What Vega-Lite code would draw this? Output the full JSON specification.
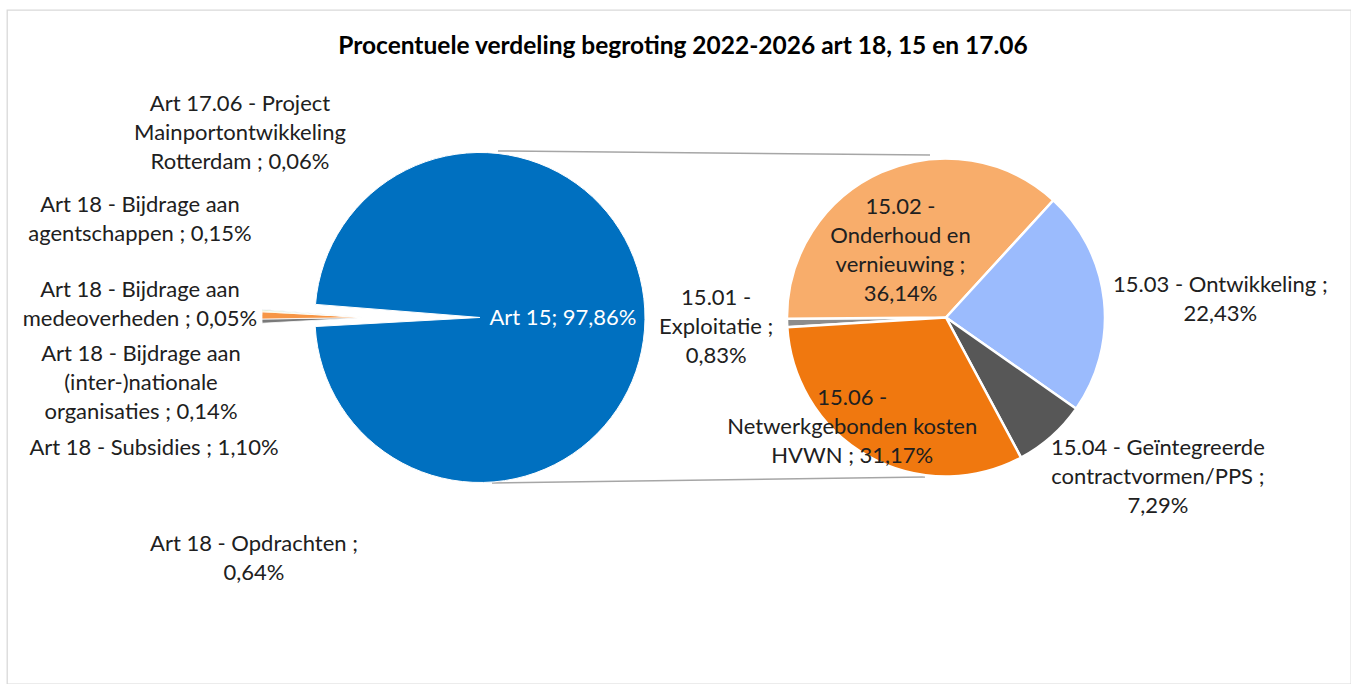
{
  "$schema": "https://vega.github.io/schema/vega-lite/v6.json",
  "width": 1344,
  "height": 674,
  "autosize": "none",
  "padding": {"left": 7, "top": 10, "right": 0, "bottom": 0},
  "background": "white",
  "config": {"view": {"stroke": "#D9D9D9", "strokeWidth": 1.3}, "font": "Lato"},
  "title": {"text": "Procentuele verdeling begroting 2022-2026 art 18, 15 en 17.06", "font": "Lato", "fontSize": 24.5, "fontWeight": "bold", "color": "#000000", "anchor": "middle", "frame": "group", "offset": -57, "dx": 4},
  "datasets": {
    "hoofd": [
      {"pie": "links", "categorie": "Art 18 - Opdrachten", "pct": 0.64, "label": "Art 18 - Opdrachten ;\n0,64%"},
      {"pie": "links", "categorie": "Art 18 - Subsidies", "pct": 1.10, "label": "Art 18 - Subsidies ; 1,10%"},
      {"pie": "links", "categorie": "Art 18 - Bijdrage aan (inter-)nationale organisaties", "pct": 0.14, "label": "Art 18 - Bijdrage aan\n(inter-)nationale\norganisaties ; 0,14%"},
      {"pie": "links", "categorie": "Art 18 - Bijdrage aan medeoverheden", "pct": 0.05, "label": "Art 18 - Bijdrage aan\nmedeoverheden ; 0,05%"},
      {"pie": "links", "categorie": "Art 18 - Bijdrage aan agentschappen", "pct": 0.15, "label": "Art 18 - Bijdrage aan\nagentschappen ; 0,15%"},
      {"pie": "links", "categorie": "Art 17.06 - Project Mainportontwikkeling Rotterdam", "pct": 0.06, "label": "Art 17.06 - Project\nMainportontwikkeling\nRotterdam ; 0,06%"},
      {"pie": "links", "categorie": "Art 15", "pct": 97.86, "label": "Art 15; 97,86%"}
    ],
    "detail": [
      {"pie": "rechts", "categorie": "15.01 - Exploitatie", "pct": 0.83, "label": "15.01 -\nExploitatie ;\n0,83%"},
      {"pie": "rechts", "categorie": "15.02 - Onderhoud en vernieuwing", "pct": 36.14, "label": "15.02 -\nOnderhoud en\nvernieuwing ;\n36,14%"},
      {"pie": "rechts", "categorie": "15.03 - Ontwikkeling", "pct": 22.43, "label": "15.03 - Ontwikkeling ;\n22,43%"},
      {"pie": "rechts", "categorie": "15.04 - Geïntegreerde contractvormen/PPS", "pct": 7.29, "label": "15.04 - Geïntegreerde\ncontractvormen/PPS ;\n7,29%"},
      {"pie": "rechts", "categorie": "15.06 - Netwerkgebonden kosten HVWN", "pct": 31.17, "label": "15.06 -\nNetwerkgebonden kosten\nHVWN ; 31,17%"}
    ]
  },
  "resolve": {"scale": {"y": "independent", "theta": "independent"}},
  "layer": [
    {
      "data": {"values": [{"lijn": "boven"}]},
      "mark": {"type": "rule", "color": "#A6A6A6", "strokeWidth": 1.5, "xOffset": 18, "x2Offset": -16, "yOffset": -166.5, "y2Offset": -162.5},
      "encoding": {
        "x": {"datum": "links", "type": "nominal", "scale": {"type": "point", "domain": ["links", "rechts"], "padding": 0.942, "align": 0.5387}, "axis": null},
        "x2": {"datum": "rechts"},
        "y": {"datum": "midden", "type": "nominal", "scale": {"type": "point", "domain": ["midden"], "align": 0.4562}, "axis": null},
        "y2": {"datum": "midden"}
      }
    },
    {
      "data": {"values": [{"lijn": "onder"}]},
      "mark": {"type": "rule", "color": "#A6A6A6", "strokeWidth": 1.5, "xOffset": 12, "x2Offset": -21, "yOffset": 165.5, "y2Offset": 159.5},
      "encoding": {
        "x": {"datum": "links", "type": "nominal", "scale": {"type": "point", "domain": ["links", "rechts"], "padding": 0.942, "align": 0.5387}, "axis": null},
        "x2": {"datum": "rechts"},
        "y": {"datum": "midden", "type": "nominal", "scale": {"type": "point", "domain": ["midden"], "align": 0.4562}, "axis": null},
        "y2": {"datum": "midden"}
      }
    },
    {
      "data": {"name": "hoofd"},
      "transform": [{"window": [{"op": "row_number", "as": "volgorde"}]}],
      "mark": {"type": "arc", "radius": 165, "stroke": "white", "strokeWidth": 1},
      "encoding": {
        "x": {"field": "pie", "type": "nominal", "scale": {"type": "point", "domain": ["links", "rechts"], "padding": 0.942, "align": 0.5387}, "axis": null},
        "y": {"datum": "midden", "type": "nominal", "scale": {"type": "point", "domain": ["midden"], "align": 0.4562}, "axis": null},
        "theta": {"field": "pct", "type": "quantitative", "stack": true, "scale": {"domain": [0, 100], "range": [4.6574, 10.9406]}},
        "order": {"field": "volgorde", "type": "quantitative"},
        "color": {"field": "categorie", "type": "nominal", "legend": null, "scale": {
          "domain": ["Art 18 - Opdrachten", "Art 18 - Subsidies", "Art 18 - Bijdrage aan (inter-)nationale organisaties", "Art 18 - Bijdrage aan medeoverheden", "Art 18 - Bijdrage aan agentschappen", "Art 17.06 - Project Mainportontwikkeling Rotterdam", "Art 15", "15.01 - Exploitatie", "15.02 - Onderhoud en vernieuwing", "15.03 - Ontwikkeling", "15.04 - Geïntegreerde contractvormen/PPS", "15.06 - Netwerkgebonden kosten HVWN"],
          "range": ["#7A7A7A", "#F79646", "#FFC000", "#5B9BD5", "#70AD47", "#264478", "#0070C0", "#8C8C8C", "#F8AD6B", "#9BBBFD", "#575757", "#F0780F"]}},
        "opacity": {"condition": {"test": "datum.categorie === 'Art 15'", "value": 1}, "value": 0}
      }
    },
    {
      "data": {"name": "hoofd"},
      "transform": [{"window": [{"op": "row_number", "as": "volgorde"}]}],
      "mark": {"type": "arc", "radius": 105, "xOffset": -113, "stroke": "white", "strokeWidth": 0.8},
      "encoding": {
        "x": {"field": "pie", "type": "nominal", "scale": {"type": "point", "domain": ["links", "rechts"], "padding": 0.942, "align": 0.5387}, "axis": null},
        "y": {"datum": "midden", "type": "nominal", "scale": {"type": "point", "domain": ["midden"], "align": 0.4562}, "axis": null},
        "theta": {"field": "pct", "type": "quantitative", "stack": true, "scale": {"domain": [0, 100], "range": [4.6574, 10.9406]}},
        "order": {"field": "volgorde", "type": "quantitative"},
        "color": {"field": "categorie", "type": "nominal", "legend": null},
        "opacity": {"condition": {"test": "datum.categorie !== 'Art 15'", "value": 1}, "value": 0}
      }
    },
    {
      "data": {"name": "hoofd"},
      "transform": [{"window": [{"op": "row_number", "as": "volgorde"}]}],
      "mark": {"type": "text", "radius": 83, "fontSize": 22, "color": "white", "align": "center", "baseline": "middle"},
      "encoding": {
        "x": {"field": "pie", "type": "nominal", "scale": {"type": "point", "domain": ["links", "rechts"], "padding": 0.942, "align": 0.5387}, "axis": null},
        "y": {"datum": "midden", "type": "nominal", "scale": {"type": "point", "domain": ["midden"], "align": 0.4562}, "axis": null},
        "theta": {"field": "pct", "type": "quantitative", "stack": true, "scale": {"domain": [0, 100], "range": [4.6574, 10.9406]}},
        "order": {"field": "volgorde", "type": "quantitative"},
        "detail": {"field": "categorie", "type": "nominal"},
        "text": {"field": "label", "type": "nominal"},
        "opacity": {"condition": {"test": "datum.categorie === 'Art 15'", "value": 1}, "value": 0}
      }
    },
    {
      "data": {"name": "hoofd"},
      "transform": [{"window": [{"op": "row_number", "as": "volgorde"}]}, {"filter": {"field": "categorie", "equal": "Art 17.06 - Project Mainportontwikkeling Rotterdam"}}],
      "mark": {"type": "text", "fontSize": 22, "color": "#202020", "align": "center", "baseline": "middle", "lineBreak": "\n", "lineHeight": 29, "dx": -240, "dy": -29},
      "encoding": {
        "x": {"field": "pie", "type": "nominal", "scale": {"type": "point", "domain": ["links", "rechts"], "padding": 0.942, "align": 0.5387}, "axis": null},
        "y": {"field": "volgorde", "type": "quantitative", "scale": {"domain": [-0.4758, 7.4499], "nice": false, "zero": false}, "axis": null},
        "text": {"field": "label", "type": "nominal"}
      }
    },
    {
      "data": {"name": "hoofd"},
      "transform": [{"window": [{"op": "row_number", "as": "volgorde"}]}, {"filter": {"field": "categorie", "equal": "Art 18 - Opdrachten"}}],
      "mark": {"type": "text", "fontSize": 22, "color": "#202020", "align": "center", "baseline": "middle", "lineBreak": "\n", "lineHeight": 29, "dx": -226, "dy": -14.5},
      "encoding": {
        "x": {"field": "pie", "type": "nominal", "scale": {"type": "point", "domain": ["links", "rechts"], "padding": 0.942, "align": 0.5387}, "axis": null},
        "y": {"field": "volgorde", "type": "quantitative", "scale": {"domain": [-0.4758, 7.4499], "nice": false, "zero": false}, "axis": null},
        "text": {"field": "label", "type": "nominal"}
      }
    },
    {
      "data": {"name": "hoofd"},
      "transform": [{"window": [{"op": "row_number", "as": "volgorde"}]}, {"filter": {"field": "categorie", "oneOf": ["Art 18 - Bijdrage aan agentschappen", "Art 18 - Bijdrage aan medeoverheden"]}}],
      "mark": {"type": "text", "fontSize": 22, "color": "#202020", "align": "center", "baseline": "middle", "lineBreak": "\n", "lineHeight": 29, "dx": -340, "dy": -13},
      "encoding": {
        "x": {"field": "pie", "type": "nominal", "scale": {"type": "point", "domain": ["links", "rechts"], "padding": 0.942, "align": 0.5387}, "axis": null},
        "y": {"field": "volgorde", "type": "quantitative", "scale": {"domain": [-0.4758, 7.4499], "nice": false, "zero": false}, "axis": null},
        "text": {"field": "label", "type": "nominal"}
      }
    },
    {
      "data": {"name": "hoofd"},
      "transform": [{"window": [{"op": "row_number", "as": "volgorde"}]}, {"filter": {"field": "categorie", "equal": "Art 18 - Bijdrage aan (inter-)nationale organisaties"}}],
      "mark": {"type": "text", "fontSize": 22, "color": "#202020", "align": "center", "baseline": "middle", "lineBreak": "\n", "lineHeight": 29, "dx": -339, "dy": -34},
      "encoding": {
        "x": {"field": "pie", "type": "nominal", "scale": {"type": "point", "domain": ["links", "rechts"], "padding": 0.942, "align": 0.5387}, "axis": null},
        "y": {"field": "volgorde", "type": "quantitative", "scale": {"domain": [-0.4758, 7.4499], "nice": false, "zero": false}, "axis": null},
        "text": {"field": "label", "type": "nominal"}
      }
    },
    {
      "data": {"name": "hoofd"},
      "transform": [{"window": [{"op": "row_number", "as": "volgorde"}]}, {"filter": {"field": "categorie", "equal": "Art 18 - Subsidies"}}],
      "mark": {"type": "text", "fontSize": 22, "color": "#202020", "align": "center", "baseline": "middle", "lineBreak": "\n", "lineHeight": 29, "dx": -326, "dy": -25},
      "encoding": {
        "x": {"field": "pie", "type": "nominal", "scale": {"type": "point", "domain": ["links", "rechts"], "padding": 0.942, "align": 0.5387}, "axis": null},
        "y": {"field": "volgorde", "type": "quantitative", "scale": {"domain": [-0.4758, 7.4499], "nice": false, "zero": false}, "axis": null},
        "text": {"field": "label", "type": "nominal"}
      }
    },
    {
      "data": {"name": "detail"},
      "transform": [{"window": [{"op": "row_number", "as": "volgorde"}]}],
      "mark": {"type": "arc", "radius": 159, "stroke": "white", "strokeWidth": 2.5},
      "encoding": {
        "x": {"field": "pie", "type": "nominal", "scale": {"type": "point", "domain": ["links", "rechts"], "padding": 0.942, "align": 0.5387}, "axis": null},
        "y": {"datum": "midden", "type": "nominal", "scale": {"type": "point", "domain": ["midden"], "align": 0.4562}, "axis": null},
        "theta": {"field": "pct", "type": "quantitative", "stack": true, "scale": {"domain": [0, 97.86], "range": [4.6513, 10.9345]}},
        "order": {"field": "volgorde", "type": "quantitative"},
        "color": {"field": "categorie", "type": "nominal", "legend": null}
      }
    },
    {
      "data": {"name": "detail"},
      "transform": [{"window": [{"op": "row_number", "as": "volgorde"}]}],
      "mark": {"type": "text", "radius": 230, "dy": -27, "fontSize": 22, "color": "#202020", "align": "center", "baseline": "middle", "lineBreak": "\n", "lineHeight": 29},
      "encoding": {
        "x": {"field": "pie", "type": "nominal", "scale": {"type": "point", "domain": ["links", "rechts"], "padding": 0.942, "align": 0.5387}, "axis": null},
        "y": {"datum": "midden", "type": "nominal", "scale": {"type": "point", "domain": ["midden"], "align": 0.4562}, "axis": null},
        "theta": {"field": "pct", "type": "quantitative", "stack": true, "scale": {"domain": [0, 97.86], "range": [4.6513, 10.9345]}},
        "order": {"field": "volgorde", "type": "quantitative"},
        "detail": {"field": "categorie", "type": "nominal"},
        "text": {"field": "label", "type": "nominal"},
        "opacity": {"condition": {"test": "datum.categorie === '15.01 - Exploitatie'", "value": 1}, "value": 0}
      }
    },
    {
      "data": {"name": "detail"},
      "transform": [{"window": [{"op": "row_number", "as": "volgorde"}]}],
      "mark": {"type": "text", "radius": 80, "dx": -13, "dy": -37, "fontSize": 22, "color": "#202020", "align": "center", "baseline": "middle", "lineBreak": "\n", "lineHeight": 29},
      "encoding": {
        "x": {"field": "pie", "type": "nominal", "scale": {"type": "point", "domain": ["links", "rechts"], "padding": 0.942, "align": 0.5387}, "axis": null},
        "y": {"datum": "midden", "type": "nominal", "scale": {"type": "point", "domain": ["midden"], "align": 0.4562}, "axis": null},
        "theta": {"field": "pct", "type": "quantitative", "stack": true, "scale": {"domain": [0, 97.86], "range": [4.6513, 10.9345]}},
        "order": {"field": "volgorde", "type": "quantitative"},
        "detail": {"field": "categorie", "type": "nominal"},
        "text": {"field": "label", "type": "nominal"},
        "opacity": {"condition": {"test": "datum.categorie === '15.02 - Onderhoud en vernieuwing'", "value": 1}, "value": 0}
      }
    },
    {
      "data": {"name": "detail"},
      "transform": [{"window": [{"op": "row_number", "as": "volgorde"}]}],
      "mark": {"type": "text", "radius": 276, "dy": -2, "fontSize": 22, "color": "#202020", "align": "center", "baseline": "middle", "lineBreak": "\n", "lineHeight": 29},
      "encoding": {
        "x": {"field": "pie", "type": "nominal", "scale": {"type": "point", "domain": ["links", "rechts"], "padding": 0.942, "align": 0.5387}, "axis": null},
        "y": {"datum": "midden", "type": "nominal", "scale": {"type": "point", "domain": ["midden"], "align": 0.4562}, "axis": null},
        "theta": {"field": "pct", "type": "quantitative", "stack": true, "scale": {"domain": [0, 97.86], "range": [4.6513, 10.9345]}},
        "order": {"field": "volgorde", "type": "quantitative"},
        "detail": {"field": "categorie", "type": "nominal"},
        "text": {"field": "label", "type": "nominal"},
        "opacity": {"condition": {"test": "datum.categorie === '15.03 - Ontwikkeling'", "value": 1}, "value": 0}
      }
    },
    {
      "data": {"name": "detail"},
      "transform": [{"window": [{"op": "row_number", "as": "volgorde"}]}],
      "mark": {"type": "text", "radius": 262, "dx": 38, "dy": -65, "fontSize": 22, "color": "#202020", "align": "center", "baseline": "middle", "lineBreak": "\n", "lineHeight": 29},
      "encoding": {
        "x": {"field": "pie", "type": "nominal", "scale": {"type": "point", "domain": ["links", "rechts"], "padding": 0.942, "align": 0.5387}, "axis": null},
        "y": {"datum": "midden", "type": "nominal", "scale": {"type": "point", "domain": ["midden"], "align": 0.4562}, "axis": null},
        "theta": {"field": "pct", "type": "quantitative", "stack": true, "scale": {"domain": [0, 97.86], "range": [4.6513, 10.9345]}},
        "order": {"field": "volgorde", "type": "quantitative"},
        "detail": {"field": "categorie", "type": "nominal"},
        "text": {"field": "label", "type": "nominal"},
        "opacity": {"condition": {"test": "datum.categorie === '15.04 - Geïntegreerde contractvormen/PPS'", "value": 1}, "value": 0}
      }
    },
    {
      "data": {"name": "detail"},
      "transform": [{"window": [{"op": "row_number", "as": "volgorde"}]}],
      "mark": {"type": "text", "radius": 141, "dx": -25, "dy": -43, "fontSize": 22, "color": "#202020", "align": "center", "baseline": "middle", "lineBreak": "\n", "lineHeight": 29},
      "encoding": {
        "x": {"field": "pie", "type": "nominal", "scale": {"type": "point", "domain": ["links", "rechts"], "padding": 0.942, "align": 0.5387}, "axis": null},
        "y": {"datum": "midden", "type": "nominal", "scale": {"type": "point", "domain": ["midden"], "align": 0.4562}, "axis": null},
        "theta": {"field": "pct", "type": "quantitative", "stack": true, "scale": {"domain": [0, 97.86], "range": [4.6513, 10.9345]}},
        "order": {"field": "volgorde", "type": "quantitative"},
        "detail": {"field": "categorie", "type": "nominal"},
        "text": {"field": "label", "type": "nominal"},
        "opacity": {"condition": {"test": "datum.categorie === '15.06 - Netwerkgebonden kosten HVWN'", "value": 1}, "value": 0}
      }
    }
  ]
}
